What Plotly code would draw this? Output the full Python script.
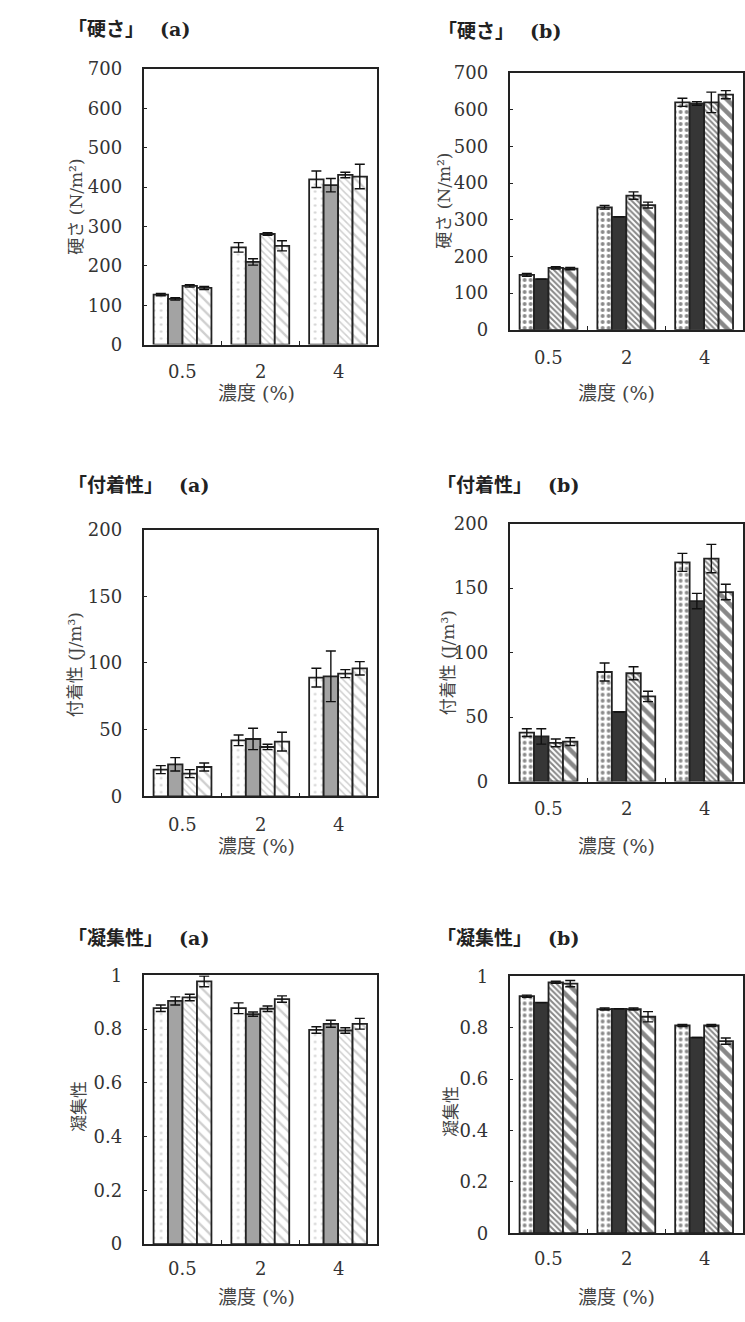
import plotly.graph_objects as go

W, H = 745, 1322

categories = ["0.5", "2", "4"]

# 硬さ (a): four samples, values per concentration
hard_a_s1 = [127, 247, 420]
hard_a_s2 = [116, 210, 405]
hard_a_s3 = [149, 281, 431]
hard_a_s4 = [144, 251, 427]
hard_a_e1 = [3, 12, 21]
hard_a_e2 = [3, 8, 17]
hard_a_e3 = [3, 3, 7]
hard_a_e4 = [4, 13, 31]

# 硬さ (b)
hard_b_s1 = [150, 334, 620]
hard_b_s2 = [138, 308, 617]
hard_b_s3 = [169, 366, 620]
hard_b_s4 = [167, 340, 641]
hard_b_e1 = [4, 5, 11]
hard_b_e2 = [0, 0, 5]
hard_b_e3 = [3, 10, 28]
hard_b_e4 = [3, 8, 11]

# 付着性 (a)
adh_a_s1 = [20, 42, 89]
adh_a_s2 = [24, 43, 90]
adh_a_s3 = [17, 37, 92]
adh_a_s4 = [22, 41, 96]
adh_a_e1 = [3, 4, 7]
adh_a_e2 = [5, 8, 19]
adh_a_e3 = [3, 2, 3]
adh_a_e4 = [3, 7, 5]

# 付着性 (b)
adh_b_s1 = [38, 85, 170]
adh_b_s2 = [35, 54, 140]
adh_b_s3 = [30, 84, 173]
adh_b_s4 = [31, 66, 147]
adh_b_e1 = [3, 7, 7]
adh_b_e2 = [6, 0, 6]
adh_b_e3 = [3, 5, 11]
adh_b_e4 = [3, 4, 6]

# 凝集性 (a)
coh_a_s1 = [0.878, 0.878, 0.797]
coh_a_s2 = [0.905, 0.856, 0.820]
coh_a_s3 = [0.918, 0.876, 0.795]
coh_a_s4 = [0.978, 0.912, 0.820]
coh_a_e1 = [0.012, 0.020, 0.012]
coh_a_e2 = [0.015, 0.008, 0.013]
coh_a_e3 = [0.012, 0.010, 0.010]
coh_a_e4 = [0.020, 0.012, 0.020]

# 凝集性 (b)
coh_b_s1 = [0.923, 0.873, 0.809]
coh_b_s2 = [0.898, 0.874, 0.762]
coh_b_s3 = [0.977, 0.873, 0.809]
coh_b_s4 = [0.972, 0.843, 0.748]
coh_b_e1 = [0.004, 0.004, 0.004]
coh_b_e2 = [0.0, 0.0, 0.0]
coh_b_e3 = [0.004, 0.004, 0.004]
coh_b_e4 = [0.012, 0.020, 0.012]

SERIF = "DejaVu Serif, Liberation Serif, Noto Sans CJK JP"
TXT = "#333333"
AX = "#222222"

# fill styles for the light (a) and dark (b) panels
style_a = [
    dict(color="white", pattern=dict(shape=".", fgcolor="#a8a8a8", bgcolor="white", size=7, solidity=0.12)),
    dict(color="#a3a3a3"),
    dict(color="white", pattern=dict(shape="\\", fgcolor="#a0a0a0", bgcolor="white", size=5, solidity=0.3)),
    dict(color="white", pattern=dict(shape="\\", fgcolor="#a0a0a0", bgcolor="white", size=8, solidity=0.3)),
]
style_b = [
    dict(color="white", pattern=dict(shape=".", fgcolor="#111", bgcolor="white", size=6, solidity=0.33)),
    dict(color="#363636"),
    dict(color="white", pattern=dict(shape="\\", fgcolor="#111", bgcolor="white", size=4, solidity=0.5)),
    dict(color="white", pattern=dict(shape="\\", fgcolor="#111", bgcolor="white", size=9, solidity=0.5)),
]

# panel boxes in pixels: (x0, x1, ytop, ybottom)
panels = [
    dict(box=(144, 378, 59, 339), series=[hard_a_s1, hard_a_s2, hard_a_s3, hard_a_s4],
         errs=[hard_a_e1, hard_a_e2, hard_a_e3, hard_a_e4], style=style_a,
         yrange=[0, 700], dtick=100, title="「硬さ」　 (a)", tpos=(66, 18),
         ytitle="硬さ (N/m²)", ytpos=(76, 199), xtick_y=366, xtitle_pos=(257, 388)),
    dict(box=(511, 745, 63, 324), series=[hard_b_s1, hard_b_s2, hard_b_s3, hard_b_s4],
         errs=[hard_b_e1, hard_b_e2, hard_b_e3, hard_b_e4], style=style_b,
         yrange=[0, 700], dtick=100, title="「硬さ」　 (b)", tpos=(437, 20),
         ytitle="硬さ (N/m²)", ytpos=(445, 193), xtick_y=352, xtitle_pos=(618, 388)),
    dict(box=(144, 378, 527, 798), series=[adh_a_s1, adh_a_s2, adh_a_s3, adh_a_s4],
         errs=[adh_a_e1, adh_a_e2, adh_a_e3, adh_a_e4], style=style_a,
         yrange=[0, 200], dtick=50, title="「付着性」　 (a)", tpos=(66, 482),
         ytitle="付着性 (J/m³)", ytpos=(76, 664), xtick_y=827, xtitle_pos=(257, 848)),
    dict(box=(511, 745, 521, 783), series=[adh_b_s1, adh_b_s2, adh_b_s3, adh_b_s4],
         errs=[adh_b_e1, adh_b_e2, adh_b_e3, adh_b_e4], style=style_b,
         yrange=[0, 200], dtick=50, title="「付着性」　 (b)", tpos=(436, 482),
         ytitle="付着性 (J/m³)", ytpos=(450, 662), xtick_y=810, xtitle_pos=(618, 848)),
    dict(box=(144, 378, 980, 1253), series=[coh_a_s1, coh_a_s2, coh_a_s3, coh_a_s4],
         errs=[coh_a_e1, coh_a_e2, coh_a_e3, coh_a_e4], style=style_a,
         yrange=[0, 1], dtick=0.2, title="「凝集性」　 (a)", tpos=(66, 942),
         ytitle="凝集性", ytpos=(80, 1113), xtick_y=1278, xtitle_pos=(257, 1307)),
    dict(box=(511, 745, 981, 1242), series=[coh_b_s1, coh_b_s2, coh_b_s3, coh_b_s4],
         errs=[coh_b_e1, coh_b_e2, coh_b_e3, coh_b_e4], style=style_b,
         yrange=[0, 1], dtick=0.2, title="「凝集性」　 (b)", tpos=(436, 942),
         ytitle="凝集性", ytpos=(452, 1118), xtick_y=1268, xtitle_pos=(618, 1307)),
]

fig = go.Figure()
annotations = []
layout = {}

for i, p in enumerate(panels):
    n = "" if i == 0 else str(i + 1)
    xa, ya = "x" + n, "y" + n
    x0, x1, yt, yb = p["box"]
    for k, (vals, err, st) in enumerate(zip(p["series"], p["errs"], p["style"])):
        marker = dict(line=dict(color=AX, width=1.8), **st)
        fig.add_trace(go.Bar(
            x=categories, y=vals, xaxis=xa, yaxis=ya, name=f"試料{k + 1}",
            marker=marker, showlegend=False, offsetgroup=str(k),
            error_y=dict(type="data", array=err, visible=True, color="#111",
                         thickness=1.4, width=5),
        ))
    layout["xaxis" + n] = dict(
        domain=[x0 / W, x1 / W], anchor=ya, type="category",
        range=[-0.5, 2.5], showline=True, linecolor=AX, linewidth=1.6, mirror=True,
        ticks="inside", ticklen=4, tickcolor=AX, tickson="boundaries",
        showticklabels=False, showgrid=False, zeroline=False, fixedrange=True,
    )
    layout["yaxis" + n] = dict(
        domain=[1 - yb / H, 1 - yt / H], anchor=xa, range=p["yrange"], dtick=p["dtick"],
        showline=True, linecolor=AX, linewidth=1.6, mirror=True,
        ticks="inside", ticklen=4, tickcolor=AX, ticklabelstandoff=16,
        tickfont=dict(family=SERIF, size=18, color=TXT),
        showgrid=False, zeroline=False, fixedrange=True,
    )
    # concentration labels under each group (category index positions)
    for j, c in enumerate(categories):
        annotations.append(dict(
            x=j, y=1 - p["xtick_y"] / H, xref=xa, yref="paper", yanchor="middle",
            text=c, showarrow=False, font=dict(family=SERIF, size=18, color=TXT),
        ))
    annotations.append(dict(
        x=p["xtitle_pos"][0] / W, y=1 - p["xtitle_pos"][1] / H, xref="paper", yref="paper",
        text="濃度 (%)", showarrow=False, xanchor="center", yanchor="middle",
        font=dict(family=SERIF, size=19, color="#444"),
    ))
    annotations.append(dict(
        x=p["ytpos"][0] / W, y=1 - p["ytpos"][1] / H, xref="paper", yref="paper",
        text=p["ytitle"], showarrow=False, textangle=-90, xanchor="center", yanchor="middle",
        font=dict(family=SERIF, size=17, color="#444"),
    ))
    annotations.append(dict(
        x=p["tpos"][0] / W, y=1 - p["tpos"][1] / H, xref="paper", yref="paper",
        text="<b>" + p["title"] + "</b>", showarrow=False, xanchor="left", yanchor="middle",
        font=dict(family=SERIF, size=19, color="#222"),
    ))

fig.update_layout(
    width=W, height=H, margin=dict(l=0, r=0, t=0, b=0),
    paper_bgcolor="white", plot_bgcolor="white",
    barmode="group", bargap=0.256, bargroupgap=0.0,
    annotations=annotations, **layout,
)

fig.write_html("out.html", config=dict(displayModeBar=False))
